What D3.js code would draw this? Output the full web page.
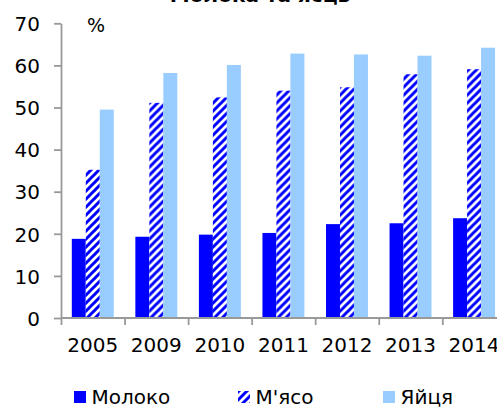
<!DOCTYPE html>
<html>
<head>
<meta charset="utf-8">
<script src="https://cdn.jsdelivr.net/npm/d3@7"></script>
<style>
  html, body { margin: 0; padding: 0; background: #fff; }
  svg { display: block; font-family: "DejaVu Sans", Verdana, sans-serif; }
</style>
</head>
<body>
<svg id="chart" width="497" height="408"></svg>
<script>
const title = "Молока та яєць";
const unitLabel = "%";
const years = ["2005", "2009", "2010", "2011", "2012", "2013", "2014"];
const seriesNames = ["Молоко", "М'ясо", "Яйця"];
const milk = [18.8, 19.3, 19.8, 20.2, 22.3, 22.5, 23.7];
const meat = [35.2, 51.1, 52.4, 54.0, 54.8, 57.9, 59.1];
const eggs = [49.5, 58.2, 60.1, 62.8, 62.6, 62.3, 64.2];
const yTicks = [0, 10, 20, 30, 40, 50, 60, 70];

const seriesValues = [milk, meat, eggs];
const fills = ["#0000FF", "url(#hatch)", "#99CCFF"];

const svg = d3.select("#chart");
const defs = svg.append("defs");
const pat = defs.append("pattern")
  .attr("id", "hatch").attr("patternUnits", "userSpaceOnUse")
  .attr("width", 8).attr("height", 8);
pat.append("rect").attr("width", 8).attr("height", 8).attr("fill", "#fff");
pat.append("path")
  .attr("d", "M-2,2 L2,-2 M0,8 L8,0 M6,10 L10,6")
  .attr("stroke", "#0000FF").attr("stroke-width", 3);

const plotLeft = 61, plotBottom = 318, plotTop = 23.3;
const bandW = 63.55;
const x0 = d3.scaleBand().domain(years).range([plotLeft, plotLeft + bandW * years.length]).padding(0);
const bw = x0.bandwidth();
const x1 = d3.scaleBand().domain(seriesNames).range([bw * 0.17, bw * 0.83]).padding(0);
const y = d3.scaleLinear().domain([0, 70]).range([plotBottom, plotTop]);

// bars
const groups = svg.append("g").selectAll("g").data(years).join("g")
  .attr("transform", d => `translate(${x0(d)},0)`);
groups.selectAll("rect")
  .data((d, i) => seriesNames.map((s, j) => ({ s, j, v: seriesValues[j][i] })))
  .join("rect")
  .attr("x", d => x1(d.s))
  .attr("width", x1.bandwidth())
  .attr("y", d => y(d.v))
  .attr("height", d => y(0) - y(d.v))
  .attr("fill", d => fills[d.j]);

// y axis
const yAxis = svg.append("g").attr("transform", `translate(${plotLeft},0)`)
  .call(d3.axisLeft(y).tickValues(yTicks).tickSize(7).tickPadding(14).tickSizeOuter(0));
yAxis.selectAll("text").attr("font-size", 20).attr("fill", "#000")
  .attr("font-family", "DejaVu Sans, Verdana, sans-serif").attr("dy", "0.36em");

// x axis
const xTickScale = d3.scaleLinear().domain([0, years.length]).range([plotLeft, plotLeft + bandW * years.length]);
const xAxis = svg.append("g").attr("transform", `translate(0,${plotBottom})`)
  .call(d3.axisBottom(x0).tickSize(0).tickPadding(34).tickSizeOuter(0));
xAxis.selectAll("text").attr("font-size", 20).attr("fill", "#000")
  .attr("font-family", "DejaVu Sans, Verdana, sans-serif").attr("dy", "0");
xAxis.selectAll(".domain").remove();
svg.append("g").attr("transform", `translate(0,${plotBottom})`)
  .call(d3.axisBottom(xTickScale).tickValues(d3.range(0, years.length + 1)).tickSize(7).tickFormat(""))
  .call(g => g.select(".domain").attr("d", `M${plotLeft},0H${plotLeft + bandW * years.length}`));

svg.selectAll(".domain").attr("stroke", "#999").attr("stroke-width", 1.8);
svg.selectAll(".tick line").attr("stroke", "#999").attr("stroke-width", 1.8);

// title (clipped at top)
svg.append("text").attr("x", 260).attr("y", 2).attr("text-anchor", "middle")
  .attr("font-size", 20).attr("font-weight", "bold").text(title);

// unit label
svg.append("text").attr("x", 87).attr("y", 31.5).attr("font-size", 19).text(unitLabel);

// legend
const legendX = [74, 238, 383];
const leg = svg.append("g").selectAll("g").data(seriesNames).join("g")
  .attr("transform", (d, i) => `translate(${legendX[i]},0)`);
leg.append("rect").attr("x", 0).attr("y", 391).attr("width", 12).attr("height", 12)
  .attr("fill", (d, i) => fills[i]);
leg.append("text").attr("x", 17.5).attr("y", 404).attr("font-size", 20).text(d => d);
</script>
</body>
</html>
